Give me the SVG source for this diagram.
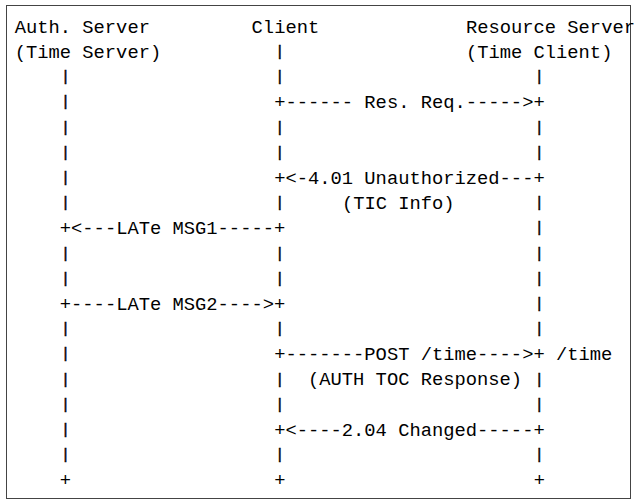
<svg xmlns="http://www.w3.org/2000/svg" width="638" height="500" viewBox="0 0 638 500">
  <style>
    .t { font-family: "Liberation Mono", "DejaVu Sans Mono", monospace; font-size: 18.8px; fill: #000; }
    .bar { font-family: "Liberation Mono", "DejaVu Sans Mono", monospace; font-size: 15px; fill: #000; stroke: #000; stroke-width: 0.5; }
    .frame { fill: #fff; stroke: #444; stroke-width: 1; }
  </style>
  <!-- character grid: column c starts at x = 14.7 + c*11.28, rows every 25.2px -->
  <rect class="frame" x="6.5" y="5.5" width="624" height="493"/>

  <g id="auth-server">
    <text class="t" x="14.7" y="32.5">Auth. Server</text>
    <text class="t" x="14.7" y="57.7">(Time Server)</text>
  </g>
  <g id="client">
    <text class="t" x="251.6" y="32.5">Client</text>
  </g>
  <g id="resource-server">
    <text class="t" x="465.9" y="32.5">Resource Server</text>
    <text class="t" x="465.9" y="57.7">(Time Client)</text>
  </g>

  <g id="connectors">
    <!-- lifelines: short bars, nudged so each sits centred in its grid cell -->
    <g transform="translate(1.1,-1.6)">
      <text class="bar">
        <tspan x="59.8" y="82.9">|</tspan><tspan x="59.8" y="108.1">|</tspan><tspan x="59.8" y="133.3">|</tspan>
        <tspan x="59.8" y="158.5">|</tspan><tspan x="59.8" y="183.7">|</tspan><tspan x="59.8" y="208.9">|</tspan>
        <tspan x="59.8" y="259.3">|</tspan><tspan x="59.8" y="284.5">|</tspan>
        <tspan x="59.8" y="334.9">|</tspan><tspan x="59.8" y="360.1">|</tspan><tspan x="59.8" y="385.3">|</tspan>
        <tspan x="59.8" y="410.5">|</tspan><tspan x="59.8" y="435.7">|</tspan><tspan x="59.8" y="460.9">|</tspan>
      </text>
      <text class="bar">
        <tspan x="274.2" y="57.7">|</tspan><tspan x="274.2" y="82.9">|</tspan>
        <tspan x="274.2" y="133.3">|</tspan><tspan x="274.2" y="158.5">|</tspan>
        <tspan x="274.2" y="208.9">|</tspan>
        <tspan x="274.2" y="259.3">|</tspan><tspan x="274.2" y="284.5">|</tspan>
        <tspan x="274.2" y="334.9">|</tspan>
        <tspan x="274.2" y="385.3">|</tspan><tspan x="274.2" y="410.5">|</tspan>
        <tspan x="274.2" y="460.9">|</tspan>
      </text>
      <text class="bar">
        <tspan x="533.7" y="82.9">|</tspan>
        <tspan x="533.7" y="133.3">|</tspan><tspan x="533.7" y="158.5">|</tspan>
        <tspan x="533.7" y="208.9">|</tspan><tspan x="533.7" y="234.1">|</tspan>
        <tspan x="533.7" y="259.3">|</tspan><tspan x="533.7" y="284.5">|</tspan>
        <tspan x="533.7" y="309.7">|</tspan><tspan x="533.7" y="334.9">|</tspan>
        <tspan x="533.7" y="385.3">|</tspan><tspan x="533.7" y="410.5">|</tspan>
        <tspan x="533.7" y="460.9">|</tspan>
      </text>
    </g>
    <!-- lifeline ends -->
    <text class="t">
      <tspan x="59.8" y="486.1">+</tspan><tspan x="274.2" y="486.1">+</tspan><tspan x="533.7" y="486.1">+</tspan>
    </text>

    <!-- messages -->
    <text class="t" x="274.2" y="108.1">+------ Res. Req.-----&gt;+</text>
    <text class="t" x="274.2" y="183.7">+&lt;-4.01 Unauthorized---+</text>
    <text class="t" x="341.9" y="208.9">(TIC Info)</text>
    <text class="t" x="59.8" y="234.1">+&lt;---LATe MSG1-----+</text>
    <text class="t" x="59.8" y="309.7">+----LATe MSG2----&gt;+</text>
    <text class="t" x="274.2" y="360.1">+-------POST /time----&gt;+ /time</text>
    <text class="t" x="308.0" y="385.3">(AUTH TOC Response)</text>
    <text class="t" x="274.2" y="435.7">+&lt;----2.04 Changed-----+</text>
  </g>
</svg>
